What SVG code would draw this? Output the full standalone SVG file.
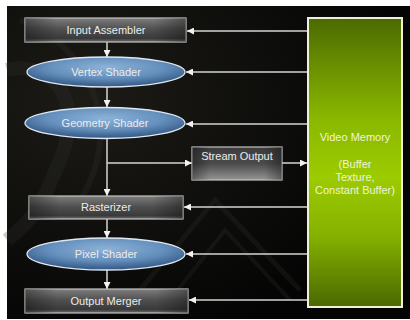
<svg xmlns="http://www.w3.org/2000/svg" width="410" height="320" viewBox="0 0 410 320">
  <defs>
    <linearGradient id="boxFill" x1="0" y1="0" x2="0" y2="1">
      <stop offset="0" stop-color="#7e7e7e"/>
      <stop offset="0.45" stop-color="#505050"/>
      <stop offset="0.85" stop-color="#3a3a3a"/>
      <stop offset="1" stop-color="#707070"/>
    </linearGradient>
    <linearGradient id="boxFillDark" x1="0" y1="0" x2="0" y2="1">
      <stop offset="0" stop-color="#3c3c3c"/>
      <stop offset="0.5" stop-color="#4a4a4a"/>
      <stop offset="1" stop-color="#959595"/>
    </linearGradient>
    <linearGradient id="boxSides" x1="0" y1="0" x2="1" y2="0">
      <stop offset="0" stop-color="#000" stop-opacity="0.35"/>
      <stop offset="0.2" stop-color="#000" stop-opacity="0"/>
      <stop offset="0.8" stop-color="#000" stop-opacity="0"/>
      <stop offset="1" stop-color="#000" stop-opacity="0.35"/>
    </linearGradient>
    <radialGradient id="shaderFill" cx="0.5" cy="0.35" r="0.6">
      <stop offset="0" stop-color="#8cb2d8"/>
      <stop offset="0.6" stop-color="#6590bd"/>
      <stop offset="1" stop-color="#3a5f8c"/>
    </radialGradient>
    <linearGradient id="memFill" x1="0" y1="0" x2="0" y2="1">
      <stop offset="0" stop-color="#4c6a00"/>
      <stop offset="0.35" stop-color="#8ab800"/>
      <stop offset="0.55" stop-color="#9ccb00"/>
      <stop offset="0.75" stop-color="#86b200"/>
      <stop offset="1" stop-color="#4a6800"/>
    </linearGradient>
    <radialGradient id="bgGlow" cx="0.2" cy="0.3" r="0.8">
      <stop offset="0" stop-color="#1c1b16"/>
      <stop offset="1" stop-color="#040404"/>
    </radialGradient>
    <marker id="arrow" viewBox="0 0 10 10" refX="10" refY="5" markerWidth="7" markerHeight="7" markerUnits="userSpaceOnUse" orient="auto">
      <path d="M0,0 L10,5 L0,10 Z" fill="#f2f2f2"/>
    </marker>
  </defs>
  <style>
    .label { font-family: "Liberation Sans", Arial, sans-serif; font-size: 11px; fill: #ececec; text-anchor: middle; }
    .mem { font-family: "Liberation Sans", Arial, sans-serif; font-size: 11px; fill: #eef5d8; text-anchor: middle; }
    .stage { fill: url(#boxFill); stroke: #c4c4c4; stroke-width: 1.2; }
    .shader { fill: url(#shaderFill); stroke: #dfe8f2; stroke-width: 1.3; }
    .link { stroke: #d4d4d4; stroke-width: 1.5; fill: none; marker-end: url(#arrow); }
    .swoosh { fill: none; stroke: #34342e; stroke-opacity: 0.25; }
  </style>

  <!-- backdrop -->
  <rect x="0" y="0" width="410" height="320" fill="#ffffff"/>
  <rect x="7" y="6" width="403" height="313" fill="url(#bgGlow)"/>
  <g id="backdrop-swooshes">
    <path class="swoosh" stroke-width="14" d="M7,70 C40,60 90,90 60,160 C45,195 40,215 7,240"/>
    <path class="swoosh" stroke-width="6" d="M20,20 C80,40 130,120 80,200"/>
    <path class="swoosh" stroke-width="5" d="M140,290 L215,200 L300,290"/>
    <path class="swoosh" stroke-width="4" d="M170,300 L225,230 L290,300"/>
  </g>

  <!-- connectors -->
  <g id="connectors">
    <line class="link" x1="107" y1="42" x2="107" y2="57"/>
    <line class="link" x1="107" y1="87" x2="107" y2="107"/>
    <line class="link" x1="107" y1="138" x2="107" y2="196"/>
    <line class="link" x1="107" y1="163" x2="192" y2="163"/>
    <line class="link" x1="282" y1="163" x2="307" y2="163"/>
    <line class="link" x1="107" y1="219" x2="107" y2="238"/>
    <line class="link" x1="107" y1="270" x2="107" y2="289"/>
    <line class="link" x1="308" y1="31" x2="187" y2="31"/>
    <line class="link" x1="308" y1="72" x2="186" y2="72"/>
    <line class="link" x1="308" y1="124" x2="186" y2="124"/>
    <line class="link" x1="308" y1="207" x2="184" y2="207"/>
    <line class="link" x1="308" y1="254" x2="186" y2="254"/>
    <line class="link" x1="308" y1="300" x2="189" y2="300"/>
  </g>

  <g id="input-assembler">
    <rect class="stage" x="25" y="18" width="161" height="24"/>
    <rect x="25" y="18" width="161" height="24" fill="url(#boxSides)"/>
    <text class="label" x="106" y="34">Input Assembler</text>
  </g>

  <g id="vertex-shader">
    <ellipse class="shader" cx="106" cy="72" rx="79" ry="15"/>
    <text class="label" x="106" y="76">Vertex Shader</text>
  </g>

  <g id="geometry-shader">
    <ellipse class="shader" cx="105" cy="123" rx="80" ry="15.5"/>
    <text class="label" x="105" y="127">Geometry Shader</text>
  </g>

  <g id="stream-output">
    <rect x="192" y="147" width="90" height="33" fill="url(#boxFillDark)" stroke="#c4c4c4" stroke-width="1.2"/>
    <rect x="192" y="147" width="90" height="33" fill="url(#boxSides)"/>
    <text class="label" x="237" y="160">Stream Output</text>
  </g>

  <g id="rasterizer">
    <rect class="stage" x="29" y="196" width="154" height="23"/>
    <rect x="29" y="196" width="154" height="23" fill="url(#boxSides)"/>
    <text class="label" x="106" y="211">Rasterizer</text>
  </g>

  <g id="pixel-shader">
    <ellipse class="shader" cx="106" cy="254" rx="79" ry="16"/>
    <text class="label" x="106" y="258">Pixel Shader</text>
  </g>

  <g id="output-merger">
    <rect class="stage" x="25" y="289" width="163" height="24"/>
    <rect x="25" y="289" width="163" height="24" fill="url(#boxSides)"/>
    <text class="label" x="106" y="305">Output Merger</text>
  </g>

  <g id="video-memory">
    <rect x="308" y="18" width="94" height="289" fill="url(#memFill)" stroke="#eef0d8" stroke-width="2"/>
    <text class="mem" x="355" y="141">Video Memory</text>
    <text class="mem" x="355" y="168">(Buffer</text>
    <text class="mem" x="355" y="181">Texture,</text>
    <text class="mem" x="355" y="194">Constant Buffer)</text>
  </g>
</svg>
